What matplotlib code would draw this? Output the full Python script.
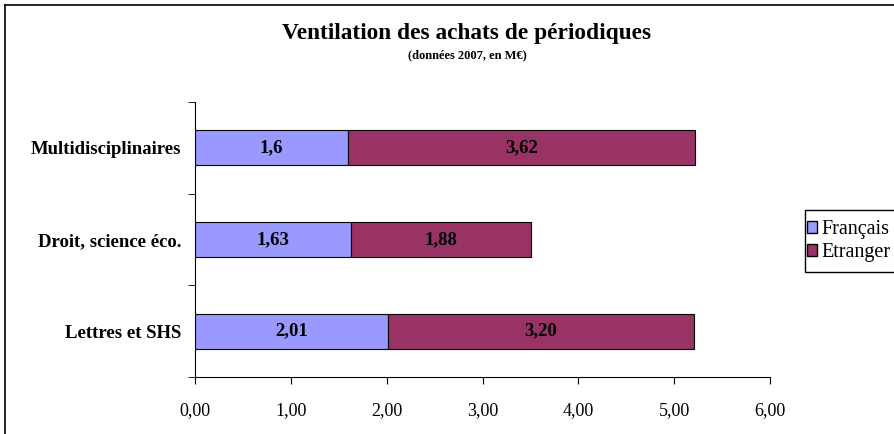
import matplotlib
matplotlib.use("Agg")
import matplotlib.pyplot as plt
from matplotlib.lines import Line2D
from matplotlib.patches import Patch, Rectangle

categories = ["Lettres et SHS", "Droit, science éco.", "Multidisciplinaires"]
francais = [2.01, 1.63, 1.6]
etranger = [3.20, 1.88, 3.62]
francais_labels = ["2,01", "1,63", "1,6"]
etranger_labels = ["3,20", "1,88", "3,62"]
xticks = [0, 1, 2, 3, 4, 5, 6]
xtick_labels = ["0,00", "1,00", "2,00", "3,00", "4,00", "5,00", "6,00"]
series_names = ["Français", "Etranger"]

plt.rcParams['font.family'] = ['Liberation Serif', 'DejaVu Serif']

fig = plt.figure(figsize=(8.94, 4.34), dpi=100)
# outer chart-area border (left and top visible)
fig.add_artist(Line2D([5/894, 5/894], [0, 1-5/434], color='black', lw=1.2, transform=fig.transFigure))
fig.add_artist(Line2D([5/894, 1], [1-5/434, 1-5/434], color='black', lw=1.2, transform=fig.transFigure))

ax = fig.add_axes([195/894, 1-377/434, (770-195)/894, (377-102)/434])
c1 = '#9999FF'
c2 = '#993366'
y = list(range(len(categories)))
ax.barh(y, francais, height=0.38, color=c1, edgecolor='black', linewidth=0.8)
ax.barh(y, etranger, left=francais, height=0.38, color=c2, edgecolor='black', linewidth=0.8)
for i in y:
    ax.text(francais[i]/2, i, francais_labels[i], ha='center', va='center', fontweight='bold', fontsize=13.5)
    ax.text(francais[i] + etranger[i]/2, i, etranger_labels[i], ha='center', va='center', fontweight='bold', fontsize=13.5)

ax.set_xlim(0, 6)
ax.set_ylim(-0.5, len(categories)-0.5)
ax.set_xticks(xticks)
ax.set_xticklabels(xtick_labels, fontsize=13)
ax.set_yticks(y)
ax.set_yticklabels(categories, fontsize=13.5, fontweight='bold')
ax.set_yticks([-0.5, 0.5, 1.5, 2.5], minor=True)
ax.tick_params(axis='y', which='major', length=0, pad=10)
ax.tick_params(axis='y', which='minor', length=5, direction='out')
ax.tick_params(axis='x', length=5, direction='out', pad=13)
for s in ['top', 'right']:
    ax.spines[s].set_visible(False)
ax.spines['left'].set_color('black')
ax.spines['bottom'].set_color('black')

fig.text(467/894, 1-33/434, "Ventilation des achats de périodiques", ha='center', va='center', fontsize=16.8, fontweight='bold')
fig.text(467/894, 1-55/434, "(données 2007, en M€)", ha='center', va='center', fontsize=9, fontweight='bold')

# legend frame (extends past the right edge, as in the reference)
fig.add_artist(Rectangle((805/894, 1-272/434), 120/894, 62/434, transform=fig.transFigure,
                         facecolor='white', edgecolor='black', linewidth=1))
handles = [Patch(facecolor=c1, edgecolor='black'), Patch(facecolor=c2, edgecolor='black')]
leg = fig.legend(handles, series_names, loc='center left', bbox_to_anchor=(806/894, 1-241/434),
                 fontsize=14.5, frameon=False, handlelength=0.5, handleheight=0.5,
                 handletextpad=0.2, borderpad=0.05, labelspacing=0.2, borderaxespad=0)

fig.savefig("out.png", dpi=100)
